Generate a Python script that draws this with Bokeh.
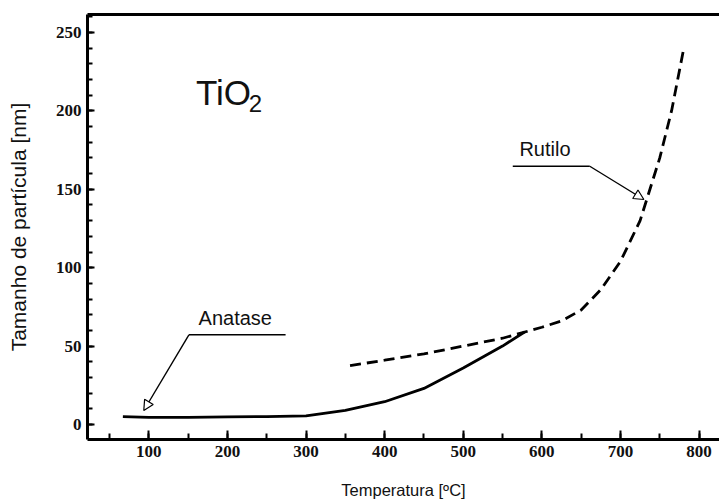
from bokeh.plotting import figure
from bokeh.models import Range1d, SingleIntervalTicker, LinearAxis, FixedTicker, Arrow, NormalHead
from bokeh.embed import file_html
from bokeh.resources import INLINE
from bokeh.core.properties import value

# ---- data ----
anatase_temp = [67, 100, 150, 200, 250, 300, 350, 400, 450, 500, 550, 578]
anatase_size = [5, 4.5, 4.5, 4.8, 5, 5.5, 9, 14.5, 23, 36, 50, 59]

rutilo_temp = [356, 400, 450, 500, 550, 600, 625, 650, 675, 700, 725, 750, 765, 781]
rutilo_size = [37.5, 41, 45, 50, 55, 62, 66, 73, 86, 104, 130, 170, 200, 241]

x_ticks = [100, 200, 300, 400, 500, 600, 700, 800]
y_ticks = [0, 50, 100, 150, 200, 250]

# annotation anchors (data coordinates)
anatase_label = (210, 61)
anatase_line = ([151, 274], [57.2, 57.2])
anatase_tip = (93.6, 8.9)
rutilo_label = (604, 169)
rutilo_line = ([563, 661], [164.7, 164.7])
rutilo_tip = (729.8, 143.5)
tio2_pos = (160, 212)

p = figure(width=719, height=503,
           x_range=Range1d(22, 826), y_range=Range1d(-9.6, 261.5),
           output_backend="svg", toolbar_location=None,
           min_border_left=87, min_border_right=0,
           min_border_top=14, min_border_bottom=64)
p.grid.visible = False
p.outline_line_color = None
p.background_fill_color = "white"
p.border_fill_color = "white"

serif = "Liberation Serif"
sans = "Liberation Sans"

xa = p.xaxis[0]
xa.ticker = SingleIntervalTicker(interval=100, num_minor_ticks=2)
xa.axis_line_width = 3
xa.axis_line_color = "black"
xa.major_tick_in = 9
xa.major_tick_out = 0
xa.minor_tick_in = 6
xa.minor_tick_out = 0
xa.major_tick_line_width = 2
xa.minor_tick_line_width = 2
xa.major_label_text_font = serif
xa.major_label_text_font_style = "bold"
xa.major_label_text_font_size = "17px"
xa.major_label_text_color = "#111111"
xa.major_label_standoff = 6
xa.axis_label = "Temperatura [ºC]"
xa.axis_label_text_font = sans
xa.axis_label_text_font_style = "normal"
xa.axis_label_text_font_size = "16.5px"
xa.axis_label_text_color = "#111111"
xa.axis_label_standoff = 21

ya = p.yaxis[0]
ya.ticker = SingleIntervalTicker(interval=50, num_minor_ticks=5)
ya.axis_line_width = 3
ya.axis_line_color = "black"
ya.major_tick_in = 7
ya.major_tick_out = 0
ya.minor_tick_in = 5
ya.minor_tick_out = 0
ya.major_tick_line_width = 2
ya.minor_tick_line_width = 2
ya.major_label_text_font = serif
ya.major_label_text_font_style = "bold"
ya.major_label_text_font_size = "17px"
ya.major_label_text_color = "#111111"
ya.major_label_standoff = 6
ya.axis_label = "Tamanho de partícula [nm]"
ya.axis_label_text_font = sans
ya.axis_label_text_font_style = "normal"
ya.axis_label_text_font_size = "21px"
ya.axis_label_text_color = "#111111"
ya.axis_label_standoff = 23

top = LinearAxis(ticker=FixedTicker(ticks=[]), axis_line_width=3, axis_line_color="black",
                 major_tick_in=0, major_tick_out=0, minor_tick_in=0, minor_tick_out=0,
                 major_label_text_font_size="0px", major_label_standoff=0)
p.add_layout(top, "above")

# curves
p.line(anatase_temp, anatase_size, line_color="black", line_width=2.8)
p.line(rutilo_temp, rutilo_size, line_color="black", line_width=2.8, line_dash="11 6")

# annotations
def head():
    return NormalHead(size=10, line_width=1.2, line_color="black", fill_color="white")

p.line(anatase_line[0], anatase_line[1], line_color="black", line_width=1.4)
p.add_layout(Arrow(end=head(),
                   x_start=anatase_line[0][0], y_start=anatase_line[1][0],
                   x_end=anatase_tip[0], y_end=anatase_tip[1],
                   line_width=1.4, line_color="black"))
p.line(rutilo_line[0], rutilo_line[1], line_color="black", line_width=1.4)
p.add_layout(Arrow(end=head(),
                   x_start=rutilo_line[0][1], y_start=rutilo_line[1][1],
                   x_end=rutilo_tip[0], y_end=rutilo_tip[1],
                   line_width=1.4, line_color="black"))

p.text(x=[anatase_label[0]], y=[anatase_label[1]], text=["Anatase"],
       text_font=value(sans), text_font_size="20px", text_align="center",
       text_baseline="bottom", text_color="#111111")
p.text(x=[rutilo_label[0]], y=[rutilo_label[1]], text=["Rutilo"],
       text_font=value(sans), text_font_size="20px", text_align="center",
       text_baseline="bottom", text_color="#111111")
p.text(x=[tio2_pos[0]], y=[tio2_pos[1]], text=["TiO"],
       text_font=value(sans), text_font_size="35px", text_align="left",
       text_baseline="alphabetic", text_color="#111111")
p.text(x=[tio2_pos[0] + 67], y=[tio2_pos[1] - 7], text=["2"],
       text_font=value(sans), text_font_size="24px", text_align="left",
       text_baseline="alphabetic", text_color="#111111")

open("out.html", "w").write(file_html(p, INLINE))
